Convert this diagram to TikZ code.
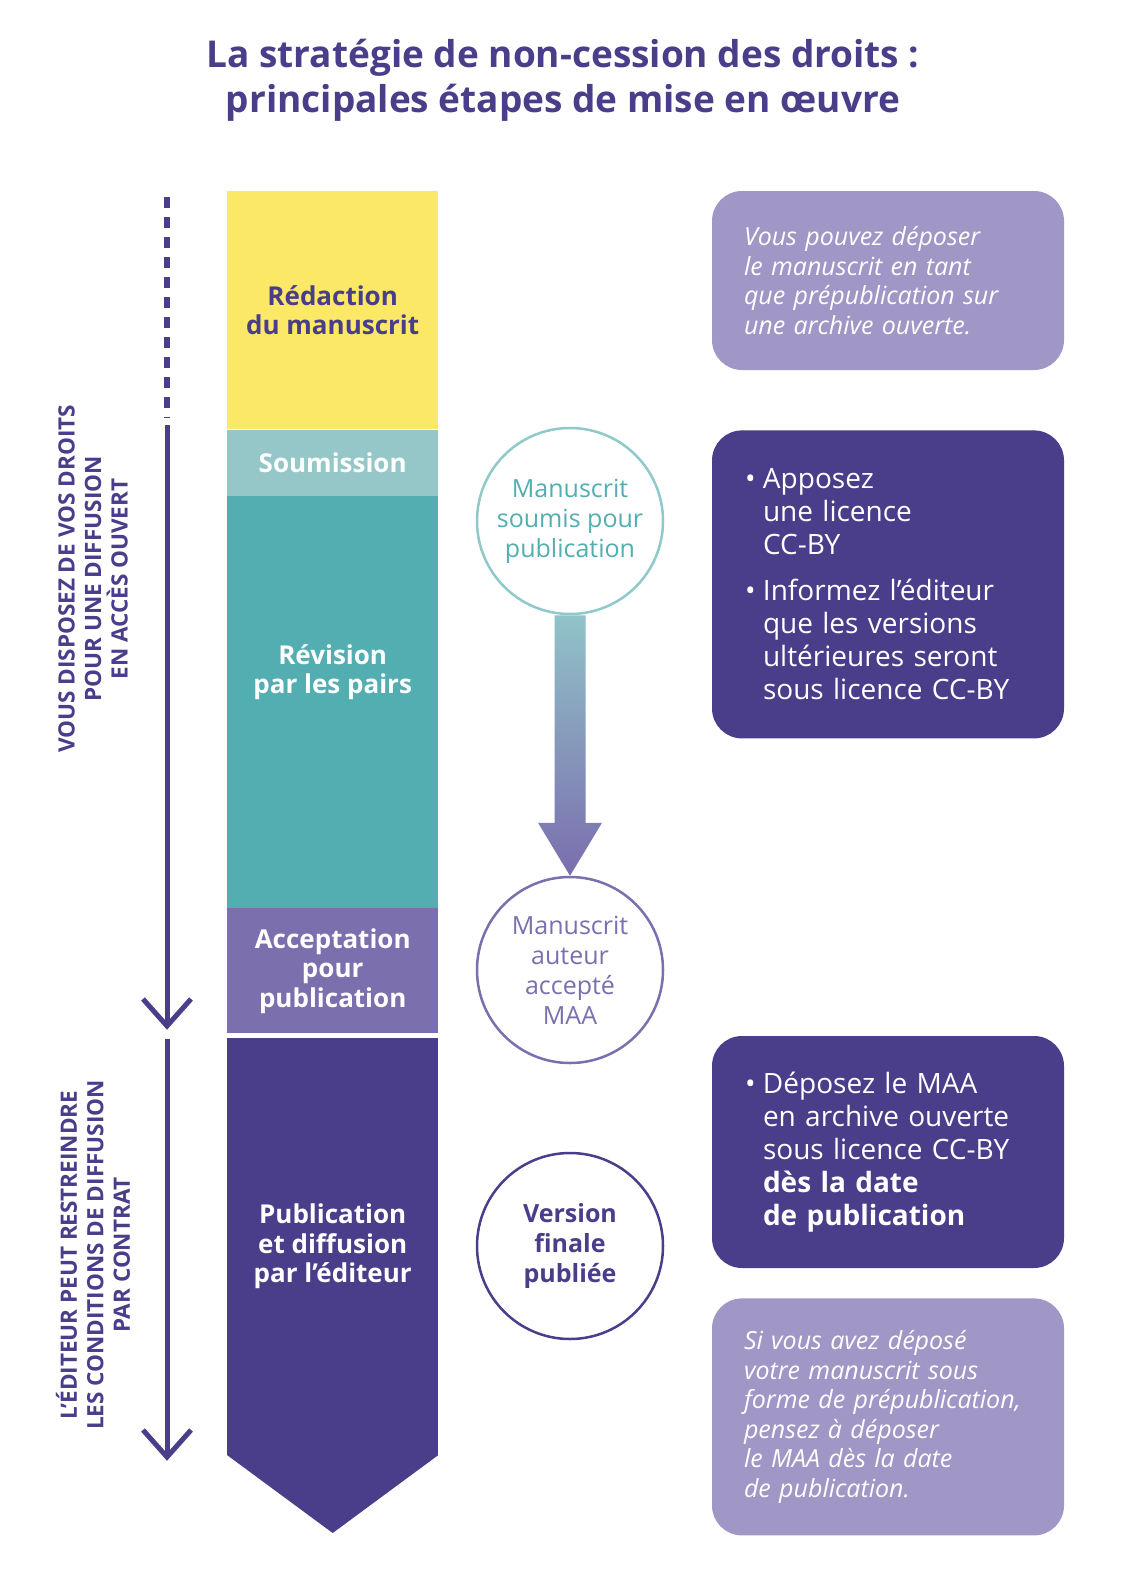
\documentclass[tikz,border=0pt]{standalone}
\usepackage{fontspec}
\setmainfont{Open Sans}
\usetikzlibrary{positioning}
\usetikzlibrary{calc}

\definecolor{violetfonce}{HTML}{4A3D8A}
\definecolor{violetmoyen}{HTML}{7B6FAE}
\definecolor{violetclair}{HTML}{A097C6}
\definecolor{turquoise}{HTML}{52AEB1}
\definecolor{turquoiseclair}{HTML}{95C7C9}
\definecolor{bordclair}{HTML}{8FC9CA}
\definecolor{jaune}{HTML}{FBE866}
\definecolor{degradehaut}{HTML}{91C3C8}
\definecolor{degradebas}{HTML}{7A6DAE}

\newcommand{\puce}[1]{\noindent\hbox to 19pt{\kern1pt\textbullet\hss}\parbox[t]{269pt}{\raggedright #1}\par}

\begin{document}
\begin{tikzpicture}[
    x=1pt, y=-1pt,
    block/.style={minimum width=211pt, inner sep=0pt, align=center, text=white, font=\bfseries\fontsize{26}{29.5}\selectfont},
    bulle/.style={circle, draw, line width=2.5pt, fill=white, minimum size=186pt, inner sep=0pt, align=center, font=\fontsize{25}{30}\selectfont},
    note/.style={rounded corners=30pt, fill=violetclair, text=white, text width=288pt, inner xsep=32pt, inner ysep=0pt, align=left, font=\itshape\fontsize{25}{29.5}\selectfont},
    info/.style={note, fill=violetfonce, font=\fontsize{28}{33}\selectfont},
    axe/.style={rotate=90, align=center, text=violetfonce, font=\bfseries\fontsize{22.5}{26.5}\selectfont},
    fleche/.style={line width=5pt, violetfonce}
]
\fill[white] (0,0) rectangle (1128,1584);
\useasboundingbox (0,0) rectangle (1128,1584);

\node[text=violetfonce, align=center, font=\bfseries\fontsize{37}{45}\selectfont] (titre) at (563,80) {La stratégie de non-cession des droits :\\principales étapes de mise en œuvre};

% colonne des etapes
\node[block, fill=jaune, text=violetfonce, minimum height=238pt, anchor=north west] (redaction) at (227,191) {Rédaction\\du manuscrit};
\node[block, fill=turquoiseclair, minimum height=66pt, below=0pt of redaction] (soumission) {Soumission};
\node[block, fill=turquoise, minimum height=412pt, below=0pt of soumission] (revision) {};
\node[block] (revisiontexte) at ($(revision.center)+(0,-30)$) {Révision\\par les pairs};
\node[block, fill=violetmoyen, minimum height=125pt, below=0pt of revision] (acceptation) {Acceptation\\pour\\publication};
\node[block, fill=violetfonce, minimum height=417pt, below=4pt of acceptation] (publication) {Publication\\et diffusion\\par l’éditeur};
\fill[violetfonce] (publication.south west) -- ($(publication.south)+(0,78)$) -- (publication.south east) -- cycle;

% axe de gauche
\coordinate (pointille) at (167,197);
\coordinate (finpointille) at (167,418);
\coordinate (debut1) at (167,425);
\coordinate (fin1) at (167,1026);
\coordinate (debut2) at (167,1039);
\coordinate (fin2) at (167,1457);
\draw[fleche, line width=6.5pt, dash pattern=on 11pt off 9pt] (pointille) -- (finpointille);
\draw[fleche] (debut1) -- (fin1);
\draw[fleche] ($(fin1)+(-24,-27)$) -- (fin1) -- ($(fin1)+(24,-27)$);
\draw[fleche] (debut2) -- (fin2);
\draw[fleche] ($(fin2)+(-24,-27)$) -- (fin2) -- ($(fin2)+(24,-27)$);
\node[axe] (droits) at (93,579) {VOUS DISPOSEZ DE VOS DROITS\\POUR UNE DIFFUSION\\EN ACCÈS OUVERT};
\node[axe] (contrat) at (93,1255) {L’ÉDITEUR PEUT RESTREINDRE\\LES CONDITIONS DE DIFFUSION\\PAR CONTRAT};

% versions du manuscrit
\node[bulle, draw=bordclair, text=turquoise] (soumis) at (570,521) {Manuscrit\\soumis pour\\publication};
\node[bulle, draw=violetmoyen, text=violetmoyen] (maa) at (570,970) {Manuscrit\\auteur\\accepté\\MAA};
\node[bulle, draw=violetfonce, text=violetfonce, font=\bfseries\fontsize{25}{30}\selectfont] (finale) at (570,1246) {Version\\finale\\publiée};
\shade[top color=degradehaut, bottom color=degradebas]
    ($(soumis.south)+(-15.5,0)$) -- ($(maa.north)+(-15.5,-53)$) -- ($(maa.north)+(-32,-53)$) -- (maa.north)
    -- ($(maa.north)+(32,-53)$) -- ($(maa.north)+(15.5,-53)$) -- ($(soumis.south)+(15.5,0)$) -- cycle;

% conseils
\node[note, minimum height=179pt] (prepub) at (888,280.5) {Vous pouvez déposer\\le manuscrit en tant\\que prépublication sur\\une archive ouverte.};
\node[info, minimum height=308pt, below=60pt of prepub] (licence) {\puce{Apposez\newline une licence\newline CC-BY}\vspace{23pt}\puce{Informez l’éditeur\newline que les versions\newline ultérieures seront\newline sous licence CC-BY}};
\node[info, minimum height=232pt] (depot) at (888,1152) {\puce{Déposez le MAA\newline en archive ouverte\newline sous licence CC-BY\newline \textbf{dès la date}\newline \textbf{de publication}}};
\node[note, minimum height=237pt, below=30pt of depot] (rappel) {Si vous avez déposé\\votre manuscrit sous\\forme de prépublication,\\pensez à déposer\\le MAA dès la date\\de publication.};
\end{tikzpicture}
\end{document}
